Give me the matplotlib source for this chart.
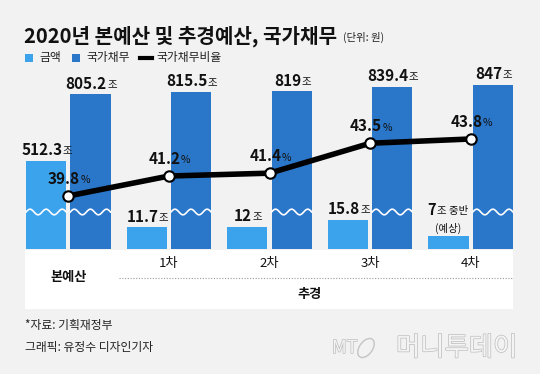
import numpy as np
import matplotlib
matplotlib.use('Agg')
import matplotlib.pyplot as plt
import matplotlib.transforms as mtransforms
from matplotlib.patches import Rectangle, Ellipse
from matplotlib.lines import Line2D
import matplotlib.patheffects as pe

plt.rcParams['font.family'] = ['Noto Sans CJK KR', 'DejaVu Sans']

# data
categories = ['본예산', '1차', '2차', '3차', '4차']
amount = [512.3, 11.7, 12, 15.8, 7]
amount_text = ['512.3', '11.7', '12', '15.8', '7']
amount_unit = ['조', '조', '조', '조', '조 중반']
amount_note = ['', '', '', '', '(예상)']
debt = [805.2, 815.5, 819, 839.4, 847]
debt_text = ['805.2', '815.5', '819', '839.4', '847']
ratio = [39.8, 41.2, 41.4, 43.5, 43.8]
ratio_text = ['39.8', '41.2', '41.4', '43.5', '43.8']

light = '#3ba2ec'
dark = '#2a76c8'
bg = '#f2f2f2'

# broken axis: small amounts stretched, big ones squashed
knots_v = [0, 20, 300, 1000]
knots_d = [0, 37, 40, 198.67]


def fwd(v):
    return np.interp(v, knots_v, knots_d)


def inv(d):
    return np.interp(d, knots_d, knots_v)


def fx(px):
    return px / 540


def fy(py):
    return 1 - py / 374


fig = plt.figure(figsize=(5.4, 3.74), dpi=100, facecolor=bg)

# white band under the bars
fig.add_artist(Rectangle((fx(25), fy(309)), fx(488), 59 / 374, transform=fig.transFigure,
                         facecolor='white', edgecolor='none', zorder=0))

ax = fig.add_axes([fx(25), fy(249), fx(488), 179 / 374])
ax.set_facecolor('none')
ax.set_yscale('function', functions=(fwd, inv))
ax.set_ylim(0, inv(179))
x = np.arange(len(categories))
ax.set_xlim(-0.43, 4.42)
off = 0.22
w = 0.4
ax.bar(x - off, amount, w, color=light, zorder=2)
ax.bar(x + off, debt, w, color=dark, zorder=2)
for s in ax.spines.values():
    s.set_visible(False)
ax.set_xticks([])
ax.set_yticks([])
ax.minorticks_off()

# wavy break marks
trans = ax.get_xaxis_transform()
for xs, vals in ((x - off, amount), (x + off, debt)):
    for xc, v in zip(xs, vals):
        if v > 20:
            wx = np.linspace(xc - w / 2, xc + w / 2, 80)
            wy = (fwd(20) + 2.8 * np.sin(2 * np.pi * (wx - xc + w / 2) / 0.16)) / 179
            ax.plot(wx, wy, color='white', lw=1.2, transform=trans, zorder=3)


def two_part(axis, xv, yv, big, small, dy, big_size=11, small_size=7.5, shift=-3):
    t = axis.annotate(big, (xv, yv), xytext=(shift, dy), textcoords='offset points',
                      ha='center', va='bottom', fontsize=big_size, fontweight='bold',
                      color='#111111', zorder=6)
    axis.annotate(small, xy=(1, 0.1), xycoords=t, xytext=(0.2, 0), textcoords='offset points',
                  ha='left', va='bottom', fontsize=small_size, color='#111111', zorder=6)
    return t


for i in range(len(categories)):
    two_part(ax, x[i] + off, debt[i], debt_text[i], '조', 2)
    if amount_note[i]:
        ax.annotate(amount_note[i], (x[i] - off, amount[i]), xytext=(0, 1.5),
                    textcoords='offset points', ha='center', va='bottom', fontsize=7.5,
                    color='#111111')
        two_part(ax, x[i] - off, amount[i], amount_text[i], amount_unit[i], 13,
                 big_size=10.5, shift=-12)
    else:
        two_part(ax, x[i] - off, amount[i], amount_text[i], amount_unit[i], 2)

# ratio line
ax2 = ax.twinx()
ax2.set_ylim(36.08, 48.64)
ax2.plot(x, ratio, color='black', lw=4, marker='o', ms=7.5, mfc='white', mec='black',
         mew=1.5, zorder=5, solid_capstyle='round')
for s in ax2.spines.values():
    s.set_visible(False)
ax2.set_yticks([])
for i in range(len(categories)):
    two_part(ax2, x[i], ratio[i], ratio_text[i], '%', 6.5)

# category labels in the white band
bt = mtransforms.blended_transform_factory(ax.transData, fig.transFigure)
fig.text(x[0], fy(277), categories[0], transform=bt, ha='center', va='center',
         fontsize=9.5, fontweight='bold', color='#111111')
for i in range(1, len(categories)):
    fig.text(x[i], fy(264), categories[i], transform=bt, ha='center', va='center',
             fontsize=9.5, color='#111111')
fig.add_artist(Line2D([fx(119), fx(513)], [fy(278), fy(278)], transform=fig.transFigure,
                      color='#999999', lw=0.8, ls=(0, (1, 1.5))))
fig.text(fx(310), fy(294), '추경', ha='center', va='center', fontsize=9.5,
         fontweight='bold', color='#111111')

# title and legend
fig.text(fx(24), fy(36), '2020년 본예산 및 추경예산, 국가채무', ha='left', va='center',
         fontsize=14.5, fontweight='bold', color='#111111')
fig.text(fx(343), fy(37), '(단위: 원)', ha='left', va='center', fontsize=7.5, color='#222222')

fig.add_artist(Rectangle((fx(25), fy(62)), fx(8), 8 / 374, transform=fig.transFigure,
                         facecolor=light, edgecolor='none'))
fig.text(fx(39), fy(58), '금액', ha='left', va='center', fontsize=8.5, color='#222222')
fig.add_artist(Rectangle((fx(72), fy(62)), fx(8), 8 / 374, transform=fig.transFigure,
                         facecolor=dark, edgecolor='none'))
fig.text(fx(86), fy(58), '국가채무', ha='left', va='center', fontsize=8.5, color='#222222')
fig.add_artist(Line2D([fx(140), fx(152)], [fy(58), fy(58)], transform=fig.transFigure,
                      color='black', lw=3))
fig.text(fx(156), fy(58), '국가채무비율', ha='left', va='center', fontsize=8.5, color='#222222')

# footer
fig.text(fx(25), fy(325), '*자료: 기획재정부', ha='left', va='center', fontsize=8.5, color='#222222')
fig.text(fx(25), fy(348), '그래픽: 유정수 디자인기자', ha='left', va='center', fontsize=8.5,
         color='#222222')

# watermark
wm = [pe.withStroke(linewidth=1.0, foreground='#bdbdbd')]
fig.text(fx(332), fy(348), 'MT', ha='left', va='center', fontsize=13, style='italic',
         color='#f4f4f4', path_effects=wm)
fig.add_artist(Ellipse((fx(366), fy(348)), fx(14), 20 / 374, angle=-20,
                       transform=fig.transFigure, facecolor='none', edgecolor='#c4c4c4', lw=1))
fig.text(fx(396), fy(348), '머니투데이', ha='left', va='center', fontsize=19,
         color='#f4f4f4', path_effects=wm)

fig.savefig('out.png', dpi=100, facecolor=bg)
